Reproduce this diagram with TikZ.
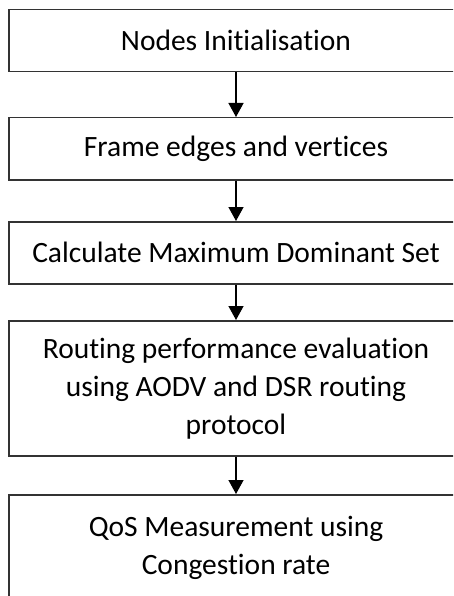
\documentclass[tikz,border=0pt]{standalone}
\usepackage{fontspec}
\setmainfont{Carlito}[Ligatures=NoCommon]
\usetikzlibrary{arrows.meta}
\begin{document}
\begin{tikzpicture}[x=1pt,y=-1pt,
    stepbox/.style={draw=black!80, line width=1.5pt, minimum width=454pt,
      anchor=north, align=center, inner sep=0pt,
      font=\fontsize{29.5}{38}\selectfont},
    flow/.style={-{Triangle[length=14pt,width=15pt]}, line width=1.3pt}]
  \useasboundingbox (0,0) rectangle (453,596);
  \clip (0,0) rectangle (453,596);
  \node[stepbox, minimum height=62pt] (init) at (236,9) {Nodes Initialisation};
  \node[stepbox, minimum height=62pt] (frame) at (236,117) {Frame edges and vertices};
  \node[stepbox, minimum height=62pt] (mds) at (236,221) {Calculate Maximum Dominant Set};
  \node[stepbox, minimum height=135pt] (route) at (236,320)
    {Routing performance evaluation\\using AODV and DSR routing\\protocol};
  \node[stepbox, minimum height=106pt] (qos) at (236,494)
    {QoS Measurement using\\Congestion rate};
  \begin{scope}[flow]
    \draw (init) -- (frame);
    \draw (frame) -- (mds);
    \draw (mds) -- (route);
    \draw (route) -- (qos);
  \end{scope}
\end{tikzpicture}
\end{document}
